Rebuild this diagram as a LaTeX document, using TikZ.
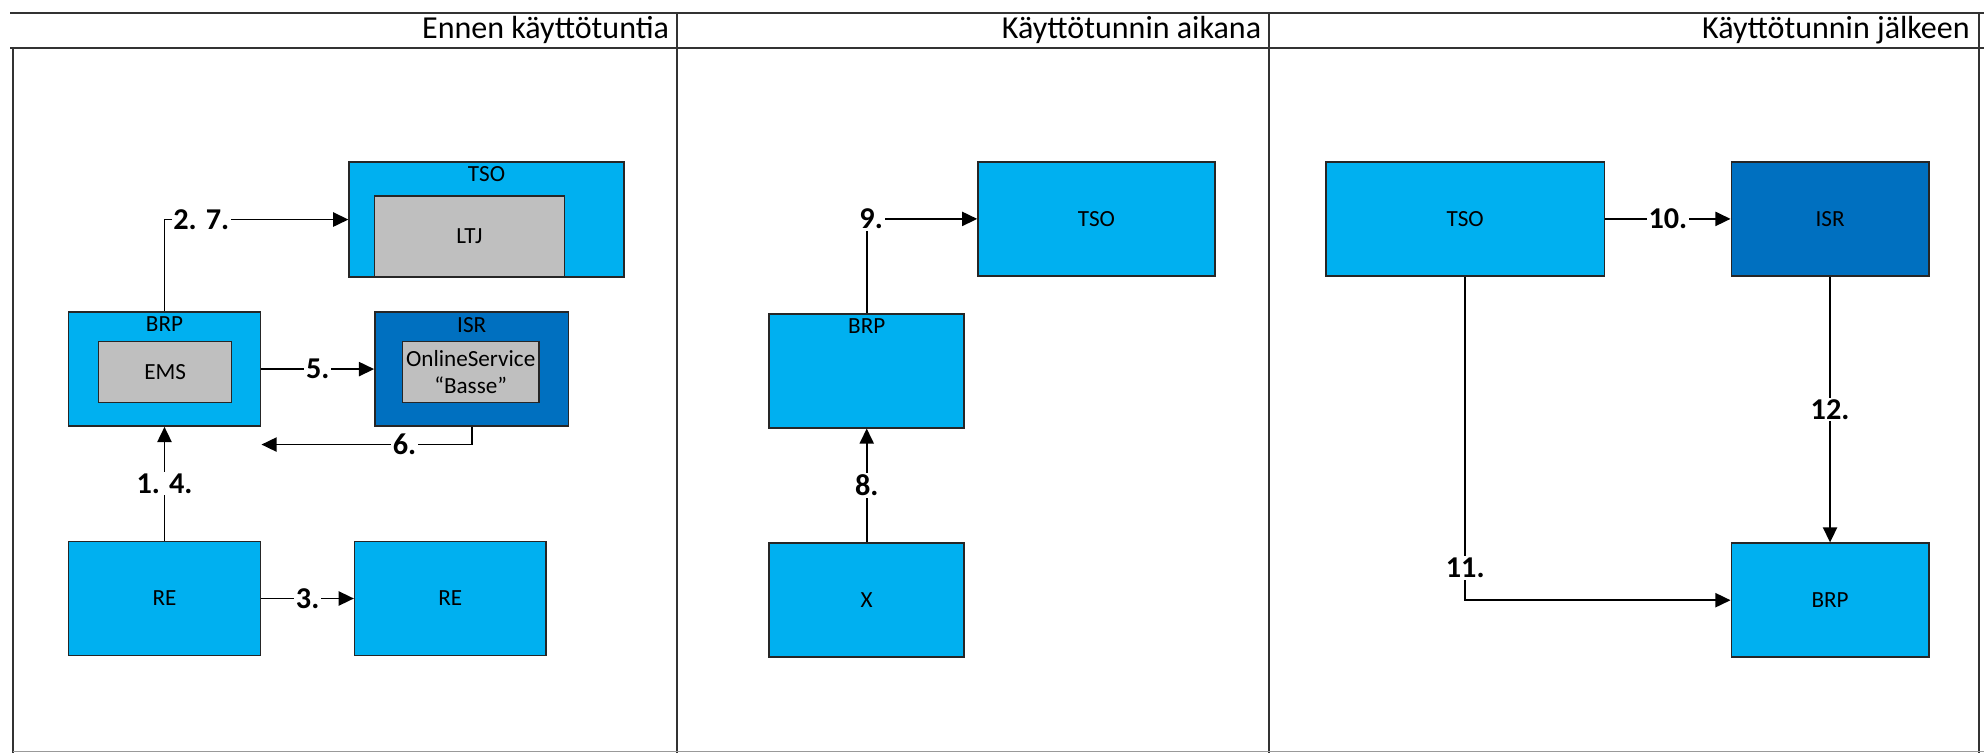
\documentclass[tikz,border=0pt]{standalone}
\usepackage{fontspec}
\setmainfont{Carlito}
\usepackage{tikz}
\usetikzlibrary{arrows.meta, positioning, calc}
\definecolor{lightBlue}{RGB}{0, 176, 240}
\definecolor{darkBlue}{RGB}{0, 112, 192}
\definecolor{boxGray}{RGB}{191, 191, 191}

\begin{document}
\begin{tikzpicture}[
    x=0.025cm, y=-0.025cm,
    >={Triangle[length=3mm, width=2.8mm]},
    % Styles
    lane/.style={draw=black!80, line width=1pt},
    header/.style={anchor=east, inner sep=0pt, font=\fontsize{18}{20}\selectfont},
    block/.style={
        draw=black!85, line width=0.9pt, fill=lightBlue, minimum height=2.25cm, font=\fontsize{13}{15}\selectfont
    },
    isr_block/.style={block, fill=darkBlue},
    inner_block/.style={
        draw=black!85, line width=0.9pt, fill=boxGray, align=center, inner sep=1pt, font=\fontsize{13}{15}\selectfont
    },
    top_label/.style={anchor=north, inner sep=3pt, font=\fontsize{13}{15}\selectfont},
    step_label/.style={fill=white, inner sep=1pt, font=\bfseries\fontsize{17}{19}\selectfont},
    flow/.style={->, line width=1pt}
]
    \useasboundingbox (0,0) rectangle (1568,595);

    % --- Lanes and headers ---
    \draw[lane] (8,10) -- (1568,10);
    \draw[lane] (8,38) -- (1568,38);
    \draw[lane] (10,38) -- (10,595);
    \draw[lane] (535,10) -- (535,595);
    \draw[lane] (1003,10) -- (1003,595);
    \draw[lane] (1564,10) -- (1564,595);
    \draw[black!40, line width=1pt] (10,594) -- (1568,594);

    \node[header] (hBefore) at (529,24) {Ennen käyttötuntia};
    \node[header] (hDuring) at (997,24) {Käyttötunnin aikana};
    \node[header] (hAfter) at (1557,24) {Käyttötunnin jälkeen};

    % --- 1. Before the operating hour ---
    \node[block, minimum width=3.8cm] (reA) at (130,473) {RE};
    \node[block, minimum width=3.775cm, right=1.825cm of reA] (reB) {RE};
    \node[block, minimum width=3.8cm, above=2.25cm of reA,
        label={[top_label]north:BRP}] (brpA) {};
    \node[inner_block, minimum width=2.625cm, minimum height=1.2cm] (ems) at (130.5,294) {EMS};
    \node[isr_block, minimum width=3.825cm, right=2.225cm of brpA,
        label={[top_label]north:ISR}] (isrA) {};
    \node[inner_block, minimum width=2.7cm, minimum height=1.2cm] (basse) at (372,294) {OnlineService\\“Basse”};
    \node[block, minimum width=5.425cm, minimum height=2.275cm,
        label={[top_label]north:TSO}] (tsoA) at (384.5,173.5) {};
    \node[inner_block, minimum width=3.75cm, minimum height=1.6cm] (ltj) at (371,187) {LTJ};

    \coordinate (back6) at ($(brpA.south east)+(0,14)$);

    \draw[flow] (brpA.north) |- node[step_label, pos=0.6] {2. 7.} (tsoA.west);
    \draw[flow] (brpA.east) -- node[step_label] {5.} (isrA.west);
    \draw[flow] (isrA.south) |- node[step_label, pos=0.66] {6.} (back6);
    \draw[flow] (reA) -- node[step_label] {1. 4.} (brpA);
    \draw[flow] (reA) -- node[step_label] {3.} (reB);

    % --- 2. During the operating hour ---
    \node[block, minimum width=3.85cm, label={[top_label]north:BRP}] (brpB) at (685,293) {};
    \node[block, minimum width=3.85cm, below=2.25cm of brpB] (xB) {X};
    \node[block, minimum width=4.675cm] (tsoB) at (866.5,173) {TSO};

    \draw[flow] (brpB.north) |- node[step_label, pos=0.52] {9.} (tsoB.west);
    \draw[flow] (xB) -- node[step_label] {8.} (brpB);

    % --- 3. After the operating hour ---
    \node[block, minimum width=5.5cm] (tsoC) at (1158,173) {TSO};
    \node[isr_block, minimum width=3.9cm, right=2.475cm of tsoC] (isrC) {ISR};
    \node[block, minimum width=3.9cm, below=5.25cm of isrC] (brpC) {BRP};

    \draw[flow] (tsoC) -- node[step_label] {10.} (isrC);
    \draw[flow] (isrC) -- node[step_label] {12.} (brpC);
    \draw[flow] (tsoC.south) |- node[step_label, pos=0.45] {11.} (brpC.west);

\end{tikzpicture}
\end{document}
